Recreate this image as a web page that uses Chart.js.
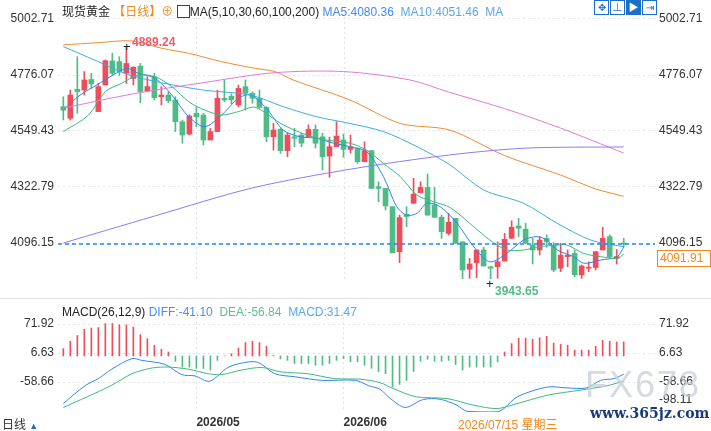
<!DOCTYPE html>
<html>
<head>
<meta charset="utf-8">
<script src="https://cdn.jsdelivr.net/npm/chart.js"></script>
<style>
  body { margin: 0; width: 711px; height: 431px; background: #fff; position: relative; overflow: hidden;
         font-family: 'Liberation Sans', 'Noto Sans CJK SC', sans-serif; font-size: 12px; color: #222; }
  .abs { position: absolute; white-space: nowrap; }
  #pricebox { position: absolute; left: 0; top: 0; width: 711px; height: 300px; }
  #macdbox { position: absolute; left: 0; top: 298px; width: 711px; height: 133px; border-top: 1px solid #e3e3e3; box-sizing: border-box; }
  .ico { position: absolute; top: 0; width: 13px; height: 13px; border: 1px solid #1b6fc9; color: #1b6fc9; font-size: 10px; line-height: 13px; text-align: center; }
</style>
</head>
<body>
<div id="pricebox"><canvas id="price"></canvas></div>
<div id="macdbox"><canvas id="macd"></canvas></div>

<div class="abs" style="left:62px;top:2px;">现货黄金 <span style="color:#f08a1e">【日线】</span><span style="color:#f08a1e">⊕</span>
  <span style="display:inline-block;width:11px;height:11px;border:1px solid #2a3f9a;vertical-align:-2px"></span>MA(5,10,30,60,100,200)
  <span style="color:#3d8bfd">MA5:4080.36</span>&nbsp; <span style="color:#5aa8f0">MA10:4051.46</span>&nbsp; <span style="color:#5aa8f0">MA</span></div>
<div class="ico" style="left:594px">✥</div>
<div class="ico" style="left:610px">⊥</div>
<div class="ico" style="left:626px;background:#1b6fc9;color:#fff">▶</div>
<div class="ico" style="left:642px">⇥</div>

<div class="abs" style="left:123px;top:39px;color:#222;font-size:13px">+</div>
<div class="abs" style="left:132px;top:35px;color:#ef5b6a;font-weight:bold">4889.24</div>
<div class="abs" style="left:486px;top:276px;color:#222;font-size:13px">+</div>
<div class="abs" style="left:495px;top:284px;color:#4fbb87;font-weight:bold">3943.65</div>
<div class="abs" style="left:657px;top:250px;width:50px;height:15px;border:1px solid #f5871f;color:#f5871f;line-height:15px;padding-left:2px">4091.91</div>

<div class="abs" style="left:62px;top:305px;">MACD(26,12,9) <span style="color:#4b8df8">DIFF:-41.10</span>&nbsp; <span style="color:#5cc08f">DEA:-56.84</span>&nbsp; <span style="color:#5aa8f0">MACD:31.47</span></div>
<div class="abs" style="left:585px;top:364px;font-size:36px;color:rgba(200,205,215,0.75);letter-spacing:2px">FX678</div>
<div class="abs" style="left:590px;top:405px;font-size:14px;font-weight:bold;color:#1a3a7a;font-family:'DejaVu Serif',serif">www.365jz.com</div>
<div class="abs" style="left:458px;top:415px;width:105px;background:#fff;color:#f5871f;">2026/07/15 星期三</div>
<div class="abs" style="left:2px;top:415px;color:#333">日线 <span style="font-size:9px;color:#1b6fc9">▲</span></div>

<script>
// K线数据（红涨绿跌）
const opens  = [4648,4601,4718,4715,4758,4628,4736,4833,4830,4783,4762,4812,4711,4769,4688,4695,4675,4587,4537,4621,
                4614,4513,4547,4682,4690,4655,4729,4702,4682,4645,4526,4556,4470,4526,4533,4526,4556,4526,4448,4486,
                4513,4475,4479,4425,4470,4324,4317,4243,4061,4212,4257,4300,4321,4250,4200,4135,4196,4101,3990,4016,
                4068,4000,4000,4023,4115,4165,4152,4088,4068,4115,4088,3994,4041,4054,3967,3994,3997,4068,4122,4034,4096];
const closes = [4634,4695,4709,4756,4740,4729,4834,4783,4790,4823,4807,4709,4729,4684,4695,4672,4587,4533,4610,4607,
                4513,4547,4682,4675,4676,4722,4702,4682,4645,4526,4553,4470,4533,4520,4500,4556,4500,4445,4486,4529,
                4475,4486,4425,4470,4317,4317,4246,4057,4199,4203,4294,4321,4209,4200,4142,4180,4095,3987,4011,4068,
                4003,3994,4020,4111,4160,4156,4095,4068,4108,4101,3987,4047,4047,3967,4003,3998,4061,4115,4041,4041,4091.91];
const highs  = [4688,4715,4850,4790,4783,4742,4837,4864,4850,4889.24,4810,4823,4769,4783,4729,4709,4688,4594,4615,4648,
                4621,4560,4715,4756,4700,4735,4756,4708,4715,4648,4580,4560,4540,4560,4540,4574,4574,4540,4525,4587,
                4537,4533,4480,4506,4470,4344,4317,4243,4209,4243,4358,4344,4375,4321,4209,4216,4196,4101,4034,4068,
                4079,4000,4101,4135,4186,4196,4176,4115,4122,4129,4098,4095,4068,4068,4007,4020,4061,4160,4129,4070,4115];
const lows   = [4594,4594,4621,4695,4722,4628,4736,4776,4775,4742,4736,4664,4709,4675,4655,4664,4547,4500,4533,4567,
                4493,4513,4547,4668,4660,4648,4634,4662,4642,4506,4472,4459,4445,4486,4486,4526,4480,4392,4362,4486,
                4443,4460,4418,4425,4317,4263,4230,4057,4017,4162,4257,4300,4209,4200,4115,4128,4095,3949,3953,3956,
                4003,3943.65,3953,4023,4115,4122,4095,4011,4047,4079,3980,3980,4000,3960,3953,3980,3987,4068,4034,4011,4080];
const lastPrice = 4091.91;

// 均线（读图取点：[位置, 数值]）
const ma5   = [[0,4634],[2.4,4695],[4.8,4736],[7.1,4776],[9.1,4803],[10.7,4783],[13.1,4763],[15.5,4695],[17.9,4607],[20.2,4567],
               [22.6,4614],[25,4682],[26.7,4695],[29,4641],[31.4,4553],[33.8,4526],[36.2,4520],[38.6,4500],[40.9,4486],[43.3,4466],
               [45.7,4365],[47.6,4243],[49,4209],[50.5,4216],[51.9,4257],[53.8,4243],[56.2,4176],[58.6,4081],[60.9,4020],[63.3,4054],
               [65.7,4108],[67.6,4122],[69,4108],[70.5,4068],[72.8,4041],[74.3,4014],[76.7,4027],[79.1,4041],[80,4080]];
const ma10  = [[0,4547],[3.6,4614],[6,4709],[8.3,4742],[10.7,4776],[13.1,4769],[15.5,4729],[17.9,4668],[20.2,4634],[22.6,4614],
               [25,4628],[27.4,4645],[31.4,4574],[36.2,4520],[40.9,4500],[43.3,4472],[45.7,4418],[48.1,4365],[50.5,4290],[52.9,4263],
               [55.2,4240],[58.6,4162],[60.9,4108],[63.3,4068],[65.7,4068],[68.1,4081],[70.5,4088],[71.9,4088],[74.3,4054],[76.7,4041],
               [79.1,4034],[80,4051]];
const ma30  = [[0,4891],[5,4830],[9,4780],[14,4745],[20,4715],[26.7,4695],[31.4,4648],[36.2,4607],[40.9,4580],[45.7,4547],
               [50.5,4486],[55.2,4412],[60,4311],[65.7,4257],[70.5,4176],[75.3,4108],[80,4081]];
const ma60  = [[0,4898],[5,4907],[9.8,4914],[14.1,4884],[17.9,4864],[22.6,4830],[27.4,4803],[30.2,4790],[32.8,4756],[40.9,4675],
               [48.1,4580],[55.2,4553],[63,4450],[71,4371],[76,4315],[80,4285]];
const ma100 = [[0,4642],[10,4700],[20,4745],[30,4785],[40,4790],[49.5,4756],[55,4707],[63,4640],[71,4561],[80,4460]];
const ma200 = [[0,4096],[13,4205],[27,4319],[41,4395],[55,4452],[66,4480],[80,4485]];

// MACD
const macdHist = [16.5,33,46,60,63,64,73,73,70,70,65,48,39,24,15,9,-12,-25,-25,-28,
                  -28,-32,-10,0,5,18,30,33,30,22,0.8,-7,-10,-17,-17,-17,-21,-21,-17,-10,
                  -6,-13,-13,-21,-28,-35,-40,-70,-64,-55,-35,-12,-7.5,-12,-12,-10,-19.5,-32,-25,-25,
                  -25,-25,-13.5,9,28,40,40,37.5,41,44,29,26,24,13,13,13,22,35,33,31.5,31.47];
const diff = [[0,-107],[3.1,-67],[5,-51],[6.9,-30],[9.8,-6],[11.2,-10],[14.5,-19],[16.9,-42],[18.8,-45],[20.9,-57],
              [23.6,-25],[26.4,-13.5],[27.9,-15],[30.2,-40],[33.1,-47],[36.9,-55],[41.7,-55],[43.6,-67],[45.2,-75],[46.7,-96],
              [48.8,-116],[51.4,-98],[53.8,-97.5],[56.2,-111],[57.6,-124.5],[61.9,-126],[62.9,-118.5],[64.8,-92],[69.1,-70],[71.9,-72],
              [74.7,-72],[76.7,-55],[78.6,-51],[80,-41.1]];
const dea  = [[0,-116],[3.4,-92],[6.9,-66],[9.8,-40],[12.7,-27],[15,-25],[17.9,-30],[20.7,-40],[22.6,-42],[25.4,-32],
              [28.3,-26],[31.1,-36],[34.9,-40],[38.7,-51],[42.5,-52.5],[45.2,-60],[47.1,-73.5],[50.4,-92],[54.8,-96],[58.6,-111],
              [61.9,-118.5],[64.3,-109.5],[69.1,-88.5],[73.8,-77],[77.5,-67.5],[80,-56.84]];

const priceTicks = [5002.71, 4776.07, 4549.43, 4322.79, 4096.15];
const macdTicksLeft = [71.92, 6.63, -58.66];
const macdTicksRight = [71.92, 6.63, -58.66, -98.11];
const monthTickPos = [19, 40];
const monthTickText = ['2026/05', '2026/06'];

const RED = '#ee4d5c', GREEN = '#4fbb87';
const FONT = { family: "'Liberation Sans', 'Noto Sans CJK SC', sans-serif", size: 12 };
const idx = closes.map((_, i) => i);
const up = idx.map(i => closes[i] >= opens[i]);
const pts = arr => arr.map(p => ({ x: p[0], y: p[1] }));

function xScale(showLabels) {
  return {
    type: 'linear', min: -0.76, max: 84.47, offset: false, display: showLabels,
    afterBuildTicks: s => { s.ticks = monthTickPos.map(v => ({ value: v })); },
    ticks: { align: 'start', color: '#333', font: { ...FONT, weight: 'bold' }, padding: 3,
             callback: v => monthTickText[monthTickPos.indexOf(v)] || '' },
    grid: { color: '#e2e2e2', drawTicks: false, offset: false },
    border: { display: false, dash: [2, 3] },
    afterFit: s => { s.height = 19; }
  };
}
function yScale(pos, ticks, w) {
  return {
    type: 'linear', position: pos, min: 0, max: 1,
    afterBuildTicks: s => { s.ticks = ticks.map(v => ({ value: v })); },
    ticks: { color: '#333', font: FONT, padding: 4, callback: v => v.toFixed(2) },
    grid: { display: pos === 'left', color: '#e4e4e4', drawTicks: false },
    border: { display: false, dash: [2, 3] },
    afterFit: s => { s.width = w; }
  };
}

// 让两个刻度值落在参考图的像素行上（画布内坐标）
function fitRange(chart, v1, y1, v2, y2) {
  const { top, bottom } = chart.chartArea;
  const per = (v1 - v2) / (y2 - y1);
  const max = v1 + (y1 - top) * per, min = v1 - (bottom - y1) * per;
  ['y', 'y2'].forEach(k => { chart.options.scales[k].min = min; chart.options.scales[k].max = max; });
  chart.update();
}

// 最新价虚线 + 月份竖线（价格区隐藏了 x 轴）
const priceLine = {
  id: 'priceLine',
  beforeDatasetsDraw(chart) {
    const { ctx, chartArea } = chart;
    ctx.save();
    ctx.strokeStyle = '#e2e2e2'; ctx.lineWidth = 1; ctx.setLineDash([2, 3]);
    monthTickPos.forEach(v => {
      const x = Math.round(chart.scales.x.getPixelForValue(v)) + 0.5;
      ctx.beginPath(); ctx.moveTo(x, chartArea.top); ctx.lineTo(x, chartArea.bottom); ctx.stroke();
    });
    ctx.restore();
  },
  afterDatasetsDraw(chart) {
    const { ctx, chartArea } = chart;
    const y = chart.scales.y.getPixelForValue(lastPrice);
    ctx.save();
    ctx.strokeStyle = '#1e88ff'; ctx.lineWidth = 1.5; ctx.setLineDash([4, 3]);
    ctx.beginPath(); ctx.moveTo(chartArea.left, y); ctx.lineTo(chartArea.right, y); ctx.stroke();
    ctx.restore();
  }
};

const line = (data, color) => ({ type: 'line', data: pts(data), borderColor: color, borderWidth: 1,
                                 pointRadius: 0, tension: 0.3, yAxisID: 'y' });

const priceChart = new Chart(document.getElementById('price'), {
  data: {
    datasets: [
      line(ma200, '#8a7cf5'), line(ma100, '#e07ad6'), line(ma60, '#f28a30'),
      line(ma30, '#3aaee6'), line(ma10, '#3cba7d'), line(ma5, '#2f86ee'),
      { type: 'bar', data: idx.map(i => ({ x: i, y: [lows[i], highs[i]] })), barThickness: 1, grouped: false,
        backgroundColor: idx.map(i => up[i] ? RED : GREEN), yAxisID: 'y' },
      { type: 'bar', data: idx.map(i => ({ x: i, y: [Math.min(opens[i], closes[i]), Math.max(opens[i], closes[i])] })),
        barThickness: 5, grouped: false, minBarLength: 1,
        backgroundColor: idx.map(i => up[i] ? RED : GREEN), yAxisID: 'y' }
    ]
  },
  options: {
    responsive: true, maintainAspectRatio: false, animation: false,
    layout: { padding: { top: 12, bottom: 2 } },
    plugins: { legend: { display: false }, tooltip: { enabled: false } },
    scales: { x: xScale(false), y: yScale('left', priceTicks, 58), y2: yScale('right', priceTicks, 56) }
  },
  plugins: [priceLine]
});
fitRange(priceChart, 5002.71, 19, 4096.15, 243);

const macdChart = new Chart(document.getElementById('macd'), {
  data: {
    datasets: [
      { type: 'bar', data: idx.map(i => ({ x: i, y: macdHist[i] })), barThickness: 1,
        backgroundColor: idx.map(i => macdHist[i] >= 0 ? RED : GREEN), yAxisID: 'y' },
      { type: 'line', data: pts(dea), borderColor: '#3cba7d', borderWidth: 1, pointRadius: 0, tension: 0.3, yAxisID: 'y' },
      { type: 'line', data: pts(diff), borderColor: '#2f86ee', borderWidth: 1, pointRadius: 0, tension: 0.3, yAxisID: 'y' }
    ]
  },
  options: {
    responsive: true, maintainAspectRatio: false, animation: false,
    layout: { padding: { top: 13, bottom: 0 } },
    plugins: { legend: { display: false }, tooltip: { enabled: false } },
    scales: { x: xScale(true), y: yScale('left', macdTicksLeft, 58), y2: yScale('right', macdTicksRight, 56) }
  }
});
fitRange(macdChart, 71.92, 25, -58.66, 83);
</script>
</body>
</html>
